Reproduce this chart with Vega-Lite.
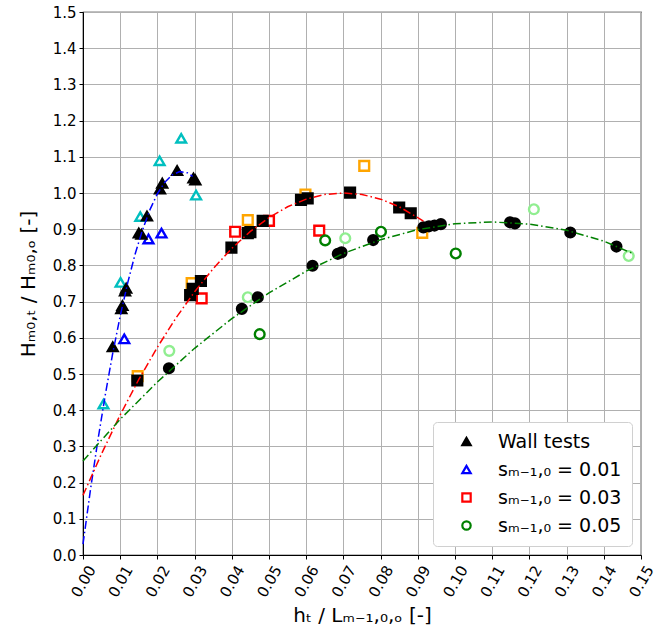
{
  "$schema": "https://vega.github.io/schema/vega-lite/v6.json",
  "autosize": {"type": "none"},
  "padding": {"left": 83, "top": 12, "right": 25, "bottom": 87},
  "width": 558,
  "height": 543,
  "background": "white",
  "config": {
    "font": "DejaVu Sans",
    "view": {"stroke": "black", "strokeWidth": 1.2},
    "axis": {
      "gridColor": "#b0b0b0",
      "gridWidth": 1,
      "gridOpacity": 1,
      "domainColor": "black",
      "tickColor": "black",
      "tickSize": 4,
      "labelColor": "black",
      "titleColor": "black",
      "labelFont": "DejaVu Sans",
      "titleFont": "DejaVu Sans",
      "labelFontSize": 15,
      "titleFontWeight": "normal"
    }
  },
  "datasets": {
    "pts": [
      {"x": 0.0055, "y": 0.417, "series": "c01"},
      {"x": 0.0101, "y": 0.753, "series": "c01"},
      {"x": 0.0154, "y": 0.935, "series": "c01"},
      {"x": 0.0206, "y": 1.089, "series": "c01"},
      {"x": 0.0264, "y": 1.151, "series": "c01"},
      {"x": 0.0304, "y": 0.994, "series": "c01"},
      {"x": 0.0111, "y": 0.597, "series": "s01"},
      {"x": 0.0176, "y": 0.873, "series": "s01"},
      {"x": 0.0211, "y": 0.889, "series": "s01"},
      {"x": 0.0147, "y": 0.494, "series": "o03"},
      {"x": 0.0292, "y": 0.751, "series": "o03"},
      {"x": 0.0443, "y": 0.925, "series": "o03"},
      {"x": 0.0598, "y": 0.996, "series": "o03"},
      {"x": 0.0756, "y": 1.075, "series": "o03"},
      {"x": 0.0912, "y": 0.890, "series": "o03"},
      {"x": 0.0319, "y": 0.709, "series": "s03"},
      {"x": 0.0409, "y": 0.893, "series": "s03"},
      {"x": 0.0500, "y": 0.923, "series": "s03"},
      {"x": 0.0635, "y": 0.896, "series": "s03"},
      {"x": 0.0232, "y": 0.564, "series": "l05"},
      {"x": 0.0443, "y": 0.712, "series": "l05"},
      {"x": 0.0705, "y": 0.875, "series": "l05"},
      {"x": 0.1212, "y": 0.955, "series": "l05"},
      {"x": 0.1467, "y": 0.826, "series": "l05"},
      {"x": 0.0475, "y": 0.610, "series": "s05"},
      {"x": 0.0651, "y": 0.869, "series": "s05"},
      {"x": 0.0801, "y": 0.893, "series": "s05"},
      {"x": 0.1002, "y": 0.833, "series": "s05"},
      {"x": 0.0080, "y": 0.575, "series": "w01"},
      {"x": 0.0103, "y": 0.680, "series": "w01"},
      {"x": 0.0106, "y": 0.689, "series": "w01"},
      {"x": 0.0113, "y": 0.729, "series": "w01"},
      {"x": 0.0116, "y": 0.737, "series": "w01"},
      {"x": 0.0150, "y": 0.889, "series": "w01"},
      {"x": 0.0157, "y": 0.886, "series": "w01"},
      {"x": 0.0172, "y": 0.936, "series": "w01"},
      {"x": 0.0207, "y": 1.011, "series": "w01"},
      {"x": 0.0213, "y": 1.027, "series": "w01"},
      {"x": 0.0253, "y": 1.062, "series": "w01"},
      {"x": 0.0297, "y": 1.041, "series": "w01"},
      {"x": 0.0302, "y": 1.036, "series": "w01"},
      {"x": 0.0146, "y": 0.482, "series": "w03"},
      {"x": 0.0288, "y": 0.718, "series": "w03"},
      {"x": 0.0295, "y": 0.735, "series": "w03"},
      {"x": 0.0317, "y": 0.757, "series": "w03"},
      {"x": 0.0399, "y": 0.849, "series": "w03"},
      {"x": 0.0443, "y": 0.889, "series": "w03"},
      {"x": 0.0450, "y": 0.892, "series": "w03"},
      {"x": 0.0483, "y": 0.923, "series": "w03"},
      {"x": 0.0586, "y": 0.981, "series": "w03"},
      {"x": 0.0604, "y": 0.985, "series": "w03"},
      {"x": 0.0718, "y": 1.001, "series": "w03"},
      {"x": 0.0850, "y": 0.960, "series": "w03"},
      {"x": 0.0881, "y": 0.944, "series": "w03"},
      {"x": 0.0231, "y": 0.516, "series": "w05"},
      {"x": 0.0427, "y": 0.680, "series": "w05"},
      {"x": 0.0470, "y": 0.712, "series": "w05"},
      {"x": 0.0617, "y": 0.799, "series": "w05"},
      {"x": 0.0685, "y": 0.832, "series": "w05"},
      {"x": 0.0695, "y": 0.836, "series": "w05"},
      {"x": 0.0780, "y": 0.870, "series": "w05"},
      {"x": 0.0915, "y": 0.905, "series": "w05"},
      {"x": 0.0930, "y": 0.908, "series": "w05"},
      {"x": 0.0945, "y": 0.910, "series": "w05"},
      {"x": 0.0962, "y": 0.914, "series": "w05"},
      {"x": 0.1148, "y": 0.919, "series": "w05"},
      {"x": 0.1161, "y": 0.916, "series": "w05"},
      {"x": 0.1310, "y": 0.891, "series": "w05"},
      {"x": 0.1434, "y": 0.852, "series": "w05"}
    ],
    "curves": [
      {"x": 0.000, "y": 0.030, "curve": "0.01"},
      {"x": 0.002, "y": 0.180, "curve": "0.01"},
      {"x": 0.004, "y": 0.317, "curve": "0.01"},
      {"x": 0.006, "y": 0.443, "curve": "0.01"},
      {"x": 0.008, "y": 0.558, "curve": "0.01"},
      {"x": 0.010, "y": 0.660, "curve": "0.01"},
      {"x": 0.012, "y": 0.751, "curve": "0.01"},
      {"x": 0.014, "y": 0.831, "curve": "0.01"},
      {"x": 0.016, "y": 0.898, "curve": "0.01"},
      {"x": 0.018, "y": 0.954, "curve": "0.01"},
      {"x": 0.020, "y": 0.998, "curve": "0.01"},
      {"x": 0.022, "y": 1.030, "curve": "0.01"},
      {"x": 0.024, "y": 1.050, "curve": "0.01"},
      {"x": 0.026, "y": 1.059, "curve": "0.01"},
      {"x": 0.028, "y": 1.056, "curve": "0.01"},
      {"x": 0.0295, "y": 1.046, "curve": "0.01"},
      {"x": 0.000, "y": 0.165, "curve": "0.03"},
      {"x": 0.005, "y": 0.280, "curve": "0.03"},
      {"x": 0.010, "y": 0.387, "curve": "0.03"},
      {"x": 0.015, "y": 0.485, "curve": "0.03"},
      {"x": 0.020, "y": 0.574, "curve": "0.03"},
      {"x": 0.025, "y": 0.655, "curve": "0.03"},
      {"x": 0.030, "y": 0.727, "curve": "0.03"},
      {"x": 0.035, "y": 0.791, "curve": "0.03"},
      {"x": 0.040, "y": 0.847, "curve": "0.03"},
      {"x": 0.045, "y": 0.894, "curve": "0.03"},
      {"x": 0.050, "y": 0.932, "curve": "0.03"},
      {"x": 0.055, "y": 0.962, "curve": "0.03"},
      {"x": 0.060, "y": 0.983, "curve": "0.03"},
      {"x": 0.065, "y": 0.996, "curve": "0.03"},
      {"x": 0.070, "y": 1.000, "curve": "0.03"},
      {"x": 0.075, "y": 0.996, "curve": "0.03"},
      {"x": 0.080, "y": 0.983, "curve": "0.03"},
      {"x": 0.085, "y": 0.962, "curve": "0.03"},
      {"x": 0.090, "y": 0.932, "curve": "0.03"},
      {"x": 0.0915, "y": 0.922, "curve": "0.03"},
      {"x": 0.000, "y": 0.260, "curve": "0.05"},
      {"x": 0.010, "y": 0.375, "curve": "0.05"},
      {"x": 0.020, "y": 0.478, "curve": "0.05"},
      {"x": 0.030, "y": 0.571, "curve": "0.05"},
      {"x": 0.040, "y": 0.653, "curve": "0.05"},
      {"x": 0.050, "y": 0.724, "curve": "0.05"},
      {"x": 0.060, "y": 0.784, "curve": "0.05"},
      {"x": 0.070, "y": 0.833, "curve": "0.05"},
      {"x": 0.080, "y": 0.871, "curve": "0.05"},
      {"x": 0.090, "y": 0.899, "curve": "0.05"},
      {"x": 0.100, "y": 0.915, "curve": "0.05"},
      {"x": 0.110, "y": 0.920, "curve": "0.05"},
      {"x": 0.120, "y": 0.914, "curve": "0.05"},
      {"x": 0.130, "y": 0.897, "curve": "0.05"},
      {"x": 0.140, "y": 0.867, "curve": "0.05"},
      {"x": 0.148, "y": 0.832, "curve": "0.05"}
    ]
  },
  "encoding": {
    "x": {
      "field": "x", "type": "quantitative",
      "scale": {"domain": [0, 0.15], "nice": false, "zero": false},
      "axis": {
        "values": [0, 0.01, 0.02, 0.03, 0.04, 0.05, 0.06, 0.07, 0.08, 0.09, 0.1, 0.11, 0.12, 0.13, 0.14, 0.15],
        "format": ".2f",
        "labelAngle": -60,
        "labelAlign": "center",
        "labelBaseline": "middle",
        "labelPadding": 22,
        "labelFlush": false,
        "labelOverlap": false,
        "labelBound": false,
        "title": "hₜ / Lₘ₋₁,₀,ₒ  [-]",
        "titleFontSize": 20,
        "titlePadding": 6
      }
    },
    "y": {
      "field": "y", "type": "quantitative",
      "scale": {"domain": [0, 1.5], "nice": false, "zero": false},
      "axis": {
        "values": [0, 0.1, 0.2, 0.3, 0.4, 0.5, 0.6, 0.7, 0.8, 0.9, 1.0, 1.1, 1.2, 1.3, 1.4, 1.5],
        "format": ".1f",
        "labelFlush": false,
        "labelOverlap": false,
        "labelPadding": 3,
        "title": "Hₘ₀,ₜ / Hₘ₀,ₒ  [-]",
        "titleFontSize": 20,
        "titlePadding": 14
      }
    }
  },
  "layer": [
    {
      "data": {"name": "pts"},
      "mark": {"type": "point", "filled": true, "fillOpacity": 1, "strokeWidth": 2.4, "size": 95, "opacity": 1},
      "encoding": {
        "shape": {
          "field": "series", "type": "nominal",
          "scale": {
            "domain": ["w01", "s01", "s03", "s05", "c01", "o03", "l05", "w03", "w05"],
            "range": ["triangle-up", "triangle-up", "square", "circle", "triangle-up", "square", "circle", "square", "circle"]
          },
          "legend": {
            "values": ["w01", "s01", "s03", "s05"],
            "labelExpr": "datum.value == 'w01' ? 'Wall tests' : datum.value == 's01' ? 'sₘ₋₁,₀ = 0.01' : datum.value == 's03' ? 'sₘ₋₁,₀ = 0.03' : 'sₘ₋₁,₀ = 0.05'",
            "title": null,
            "orient": "bottom-right",
            "offset": 9,
            "fillColor": "white",
            "strokeColor": "#d0d0d0",
            "cornerRadius": 4,
            "padding": 10,
            "labelFontSize": 19,
            "labelFont": "DejaVu Sans",
            "labelColor": "black",
            "symbolSize": 70,
            "symbolStrokeWidth": 2.2,
            "labelOffset": 22,
            "rowPadding": 8,
            "symbolOffset": 14
          }
        },
        "stroke": {
          "field": "series", "type": "nominal",
          "scale": {
            "domain": ["w01", "s01", "s03", "s05", "c01", "o03", "l05", "w03", "w05"],
            "range": ["black", "#0000ff", "#ff0000", "#008000", "#00bfbf", "#ffa500", "#90ee90", "black", "black"]
          },
          "legend": {
            "values": ["w01", "s01", "s03", "s05"],
            "labelExpr": "datum.value == 'w01' ? 'Wall tests' : datum.value == 's01' ? 'sₘ₋₁,₀ = 0.01' : datum.value == 's03' ? 'sₘ₋₁,₀ = 0.03' : 'sₘ₋₁,₀ = 0.05'",
            "title": null,
            "orient": "bottom-right",
            "offset": 9,
            "fillColor": "white",
            "strokeColor": "#d0d0d0",
            "cornerRadius": 4,
            "padding": 10,
            "labelFontSize": 19,
            "labelFont": "DejaVu Sans",
            "labelColor": "black",
            "symbolSize": 70,
            "symbolStrokeWidth": 2.2,
            "labelOffset": 22,
            "rowPadding": 8,
            "symbolOffset": 14
          }
        },
        "fill": {
          "field": "series", "type": "nominal",
          "scale": {
            "domain": ["w01", "s01", "s03", "s05", "c01", "o03", "l05", "w03", "w05"],
            "range": ["black", "white", "white", "white", "white", "white", "white", "black", "black"]
          },
          "legend": {
            "values": ["w01", "s01", "s03", "s05"],
            "labelExpr": "datum.value == 'w01' ? 'Wall tests' : datum.value == 's01' ? 'sₘ₋₁,₀ = 0.01' : datum.value == 's03' ? 'sₘ₋₁,₀ = 0.03' : 'sₘ₋₁,₀ = 0.05'",
            "title": null,
            "orient": "bottom-right",
            "offset": 9,
            "fillColor": "white",
            "strokeColor": "#d0d0d0",
            "cornerRadius": 4,
            "padding": 10,
            "labelFontSize": 19,
            "labelFont": "DejaVu Sans",
            "labelColor": "black",
            "symbolSize": 70,
            "symbolStrokeWidth": 2.2,
            "labelOffset": 22,
            "rowPadding": 8,
            "symbolOffset": 14
          }
        }
      }
    },
    {
      "data": {"name": "curves"},
      "transform": [{"filter": "datum.curve == '0.01'"}],
      "mark": {"type": "line", "color": "#0000ff", "strokeWidth": 1.5, "strokeDash": [8, 3, 1.5, 3]},
      "encoding": {}
    },
    {
      "data": {"name": "curves"},
      "transform": [{"filter": "datum.curve == '0.03'"}],
      "mark": {"type": "line", "color": "#ff0000", "strokeWidth": 1.5, "strokeDash": [8, 3, 1.5, 3]},
      "encoding": {}
    },
    {
      "data": {"name": "curves"},
      "transform": [{"filter": "datum.curve == '0.05'"}],
      "mark": {"type": "line", "color": "#008000", "strokeWidth": 1.5, "strokeDash": [8, 3, 1.5, 3]},
      "encoding": {}
    }
  ]
}
